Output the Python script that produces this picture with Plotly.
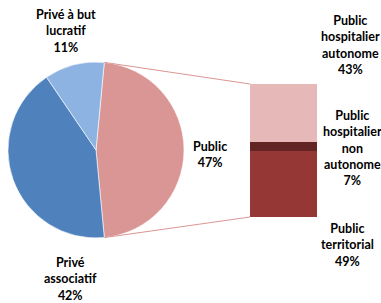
import math
import plotly.graph_objects as go

# ---- data ----
pie_labels = ["Public", "Privé associatif", "Privé à but lucratif"]
pie_values = [47, 42, 11]
pie_colors = ["#D99694", "#4F81BD", "#8DB3E2"]

bar_labels = ["Public territorial", "Public hospitalier non autonome", "Public hospitalier autonome"]
bar_values = [49, 7, 43]
bar_colors = ["#953735", "#632523", "#E6B9B8"]

W, H = 381, 303
FONT = "Lato"

# ---- layout geometry (pixels) ----
pie_cx, pie_cy, pie_r = 96, 150, 88
bar_x0, bar_x1, bar_y0, bar_y1 = 250, 317, 84, 217

def px(x):
    return x / W

def py(y):
    return 1 - y / H

total_pie = sum(pie_values)
public_angle = pie_values[0] / total_pie * 360
rotation = 90 - public_angle / 2

fig = go.Figure()
fig.add_trace(go.Pie(
    labels=pie_labels, values=pie_values, sort=False, direction="clockwise",
    rotation=rotation, textinfo="none", hoverinfo="skip",
    marker=dict(colors=pie_colors, line=dict(color="white", width=0.6)),
    domain=dict(x=[px(pie_cx - pie_r), px(pie_cx + pie_r)],
                y=[py(pie_cy + pie_r), py(pie_cy - pie_r)]),
    showlegend=False,
))

for lab, val, col in zip(bar_labels, bar_values, bar_colors):
    fig.add_trace(go.Bar(
        x=[0], y=[val], name=lab, marker=dict(color=col, line=dict(width=0)),
        width=1, xaxis="x", yaxis="y", hoverinfo="skip", showlegend=False,
    ))

# connector lines from pie edges of "Public" slice to bar corners
a = math.radians(rotation)
top_pt = (pie_cx + pie_r * math.sin(a), pie_cy - pie_r * math.cos(a))
a2 = math.radians(rotation + public_angle)
bot_pt = (pie_cx + pie_r * math.sin(a2), pie_cy - pie_r * math.cos(a2))
shapes = [
    dict(type="line", xref="paper", yref="paper",
         x0=px(top_pt[0]), y0=py(top_pt[1]), x1=px(bar_x0), y1=py(bar_y0),
         line=dict(color="#D99694", width=1)),
    dict(type="line", xref="paper", yref="paper",
         x0=px(bot_pt[0]), y0=py(bot_pt[1]), x1=px(bar_x0), y1=py(bar_y1),
         line=dict(color="#D99694", width=1)),
]

def pct(v, tot):
    return f"{round(v / tot * 100)}%"

label_pos = {
    "Public": (210, 154, "Public"),
    "Privé associatif": (70, 279, "Privé<br>associatif"),
    "Privé à but lucratif": (66, 31, "Privé à but<br>lucratif"),
    "Public hospitalier autonome": (350, 45, "Public<br>hospitalier<br>autonome"),
    "Public hospitalier non autonome": (352, 148, "Public<br>hospitalier<br>non<br>autonome"),
    "Public territorial": (347, 245, "Public<br>territorial"),
}
annotations = []
for lab, val in zip(pie_labels, pie_values):
    x, y, t = label_pos[lab]
    annotations.append(dict(x=px(x), y=py(y), xref="paper", yref="paper",
                            text=f"{t}<br>{pct(val, total_pie)}", showarrow=False,
                            xanchor="center", yanchor="middle"))
for lab, val in zip(bar_labels, bar_values):
    x, y, t = label_pos[lab]
    annotations.append(dict(x=px(x), y=py(y), xref="paper", yref="paper",
                            text=f"{t}<br>{val}%", showarrow=False,
                            xanchor="center", yanchor="middle"))

fig.update_layout(
    width=W, height=H, margin=dict(l=0, r=0, t=0, b=0),
    paper_bgcolor="white", plot_bgcolor="rgba(0,0,0,0)",
    barmode="stack", bargap=0,
    font=dict(family=FONT, size=12.5, color="#000000", weight="bold"),
    xaxis=dict(domain=[px(bar_x0), px(bar_x1)], range=[-0.5, 0.5],
               visible=False, fixedrange=True),
    yaxis=dict(domain=[py(bar_y1), py(bar_y0)], range=[0, sum(bar_values)],
               visible=False, fixedrange=True),
    shapes=shapes, annotations=annotations,
)

fig.write_html("out.html", config={"displayModeBar": False},
               post_script="document.body.style.margin='0';document.body.style.overflow='hidden';")
